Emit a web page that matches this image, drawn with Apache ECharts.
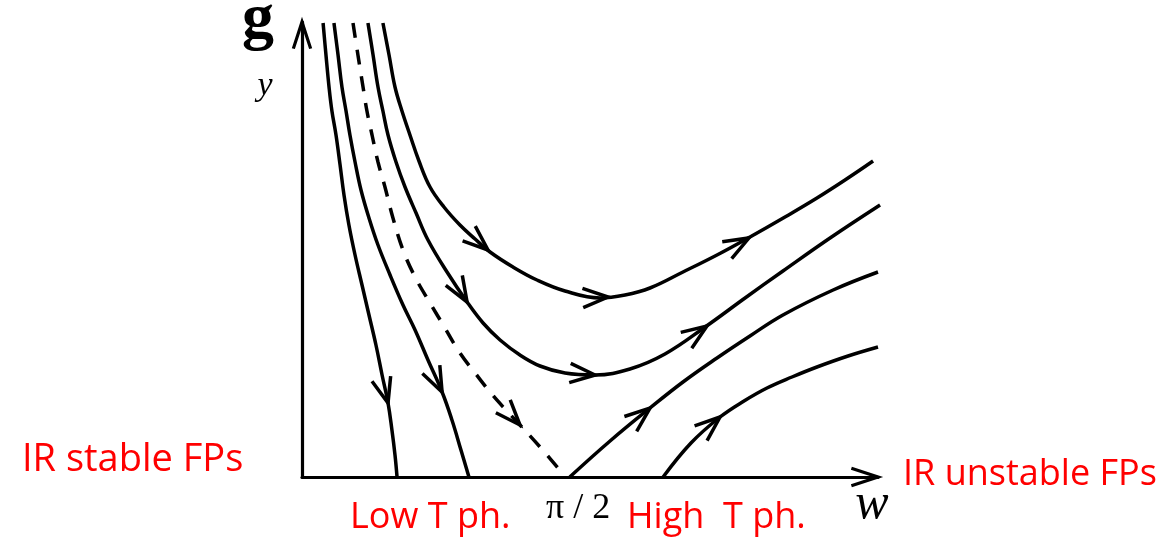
<!DOCTYPE html>
<html>
<head>
<meta charset="utf-8">
<script src="https://cdn.jsdelivr.net/npm/echarts@6/dist/echarts.min.js"></script>
<style>
  html, body { margin: 0; padding: 0; background: #fff; }
  #chart { width: 1167px; height: 541px; }
</style>
</head>
<body>
<div id="chart"></div>
<script>
// Axis extents in (w, g_y) units
const W_MAX = 3.388;
const G_MAX = 4.55;

// Flow trajectories, each point is [w, g_y]
// flows ending on the low-T fixed line (g_y -> 0 for w < pi/2)
const flowA = [[0.124, 4.54], [0.141, 4.22], [0.159, 3.90], [0.176, 3.66], [0.200, 3.42],
               [0.224, 3.12], [0.247, 2.82], [0.276, 2.52], [0.312, 2.22], [0.353, 1.92],
               [0.394, 1.62], [0.435, 1.32], [0.471, 1.02], [0.506, 0.74], [0.529, 0.47],
               [0.547, 0.22], [0.559, 0.00]];
const flowB = [[0.188, 4.54], [0.212, 4.22], [0.235, 3.90], [0.259, 3.66], [0.282, 3.42],
               [0.312, 3.15], [0.347, 2.87], [0.394, 2.59], [0.447, 2.32], [0.518, 2.02],
               [0.594, 1.72], [0.665, 1.47], [0.741, 1.17], [0.824, 0.85], [0.882, 0.57],
               [0.935, 0.27], [0.982, 0.00]];
// separatrix flowing into w = pi/2
const separatrix = [[0.300, 4.54], [0.329, 4.22], [0.359, 3.90], [0.382, 3.66], [0.412, 3.42],
                    [0.447, 3.15], [0.488, 2.90], [0.535, 2.59], [0.594, 2.27], [0.665, 2.00],
                    [0.753, 1.74], [0.841, 1.49], [0.929, 1.24], [1.018, 1.04], [1.106, 0.85],
                    [1.194, 0.68], [1.282, 0.52], [1.400, 0.30], [1.506, 0.09]];
// flows turning around and escaping to large w
const flowC = [[0.388, 4.54], [0.418, 4.22], [0.447, 3.90], [0.476, 3.66], [0.506, 3.42],
               [0.553, 3.15], [0.606, 2.90], [0.671, 2.64], [0.741, 2.37], [0.853, 2.05],
               [0.971, 1.75], [1.065, 1.54], [1.165, 1.37], [1.282, 1.22], [1.400, 1.11],
               [1.547, 1.04], [1.724, 1.02], [1.929, 1.08], [2.135, 1.23], [2.371, 1.50],
               [2.606, 1.79], [2.829, 2.06], [3.106, 2.39], [3.400, 2.72]];
const flowD = [[0.476, 4.54], [0.512, 4.22], [0.547, 3.90], [0.588, 3.66], [0.635, 3.42],
               [0.688, 3.16], [0.753, 2.90], [0.835, 2.70], [0.929, 2.52], [1.018, 2.38],
               [1.106, 2.25], [1.241, 2.10], [1.382, 1.97], [1.547, 1.86], [1.753, 1.79],
               [1.900, 1.82], [2.047, 1.89], [2.241, 2.05], [2.441, 2.22], [2.635, 2.40],
               [2.841, 2.60], [3.029, 2.79], [3.194, 2.97], [3.359, 3.16]];
// flows leaving the high-T fixed line (w > pi/2)
const flowE = [[1.575, 0.00], [1.812, 0.36], [2.047, 0.69], [2.241, 0.95], [2.441, 1.19],
               [2.635, 1.41], [2.829, 1.62], [3.124, 1.87], [3.388, 2.05]];
const flowF = [[2.124, 0.00], [2.288, 0.34], [2.459, 0.60], [2.600, 0.76], [2.735, 0.89],
               [2.882, 1.00], [3.029, 1.10], [3.212, 1.21], [3.388, 1.30]];

// Direction markers: [tipW, tipG, tailW, tailG]
const flowArrows = [
  [0.506, 0.74, 0.459, 1.03],   // A
  [0.824, 0.85, 0.747, 1.12],   // B
  [1.282, 0.52, 1.165, 0.74],   // separatrix
  [0.971, 1.75, 0.882, 2.00],   // C, descending
  [1.724, 1.02, 1.576, 1.04],   // C, turning
  [2.382, 1.51, 2.229, 1.33],   // C, rising
  [1.094, 2.27, 0.965, 2.46],   // D, descending
  [1.800, 1.80, 1.653, 1.79],   // D, turning
  [2.629, 2.39, 2.471, 2.24],   // D, rising
  [2.047, 0.69, 1.918, 0.51],   // E
  [2.459, 0.60, 2.341, 0.43]    // F
];
const axisArrows = [
  [W_MAX, 0, W_MAX - 0.2, 0],
  [0, G_MAX, 0, G_MAX - 0.2]
];

// Tick on the w axis
const xTickValues = [Math.PI / 2];
const xTickLabels = ['π / 2'];

// Region captions
const captionLeft = 'IR stable FPs';
const captionRight = 'IR unstable FPs';
const captionLow = 'Low T ph.';
const captionHigh = 'High  T ph.';

function chevron(len, halfDeg, width) {
  const half = halfDeg * Math.PI / 180;
  return function (params, api) {
    const tip = api.coord([api.value(0), api.value(1)]);
    const tail = api.coord([api.value(2), api.value(3)]);
    const a = Math.atan2(tail[1] - tip[1], tail[0] - tip[0]);
    return {
      type: 'polyline',
      shape: {
        points: [
          [tip[0] + len * Math.cos(a + half), tip[1] + len * Math.sin(a + half)],
          tip,
          [tip[0] + len * Math.cos(a - half), tip[1] + len * Math.sin(a - half)]
        ]
      },
      style: { stroke: '#000', lineWidth: width, fill: 'none', lineJoin: 'miter' }
    };
  };
}

function flowSeries(name, data, dashed) {
  return {
    name: name,
    type: 'line',
    data: data,
    smooth: 0.4,
    showSymbol: false,
    symbol: 'none',
    clip: false,
    silent: true,
    z: 2,
    lineStyle: { color: '#000', width: 3.5, type: dashed ? [15, 12] : 'solid', cap: 'butt' }
  };
}

const chart = echarts.init(document.getElementById('chart'), null, { renderer: 'canvas' });

const red = '#ff0000';
const capFont = '"Open Sans", "Noto Sans", sans-serif';

chart.setOption({
  backgroundColor: '#fff',
  animation: false,
  grid: { left: 302, right: 289, top: 22, bottom: 64, containLabel: false, outerBoundsMode: 'none' },
  xAxis: {
    type: 'value', min: 0, max: W_MAX,
    axisLine: { show: true, onZero: false, lineStyle: { color: '#000', width: 3.2 } },
    axisTick: { show: false },
    splitLine: { show: false },
    axisLabel: {
      customValues: xTickValues,
      formatter: function (v) {
        let best = 0;
        xTickValues.forEach(function (t, i) { if (Math.abs(t - v) < Math.abs(xTickValues[best] - v)) best = i; });
        return xTickLabels[best];
      },
      fontFamily: '"Liberation Serif", "DejaVu Serif", serif',
      fontSize: 36, color: '#000', margin: 14, padding: [0, 0, 0, 18]
    }
  },
  yAxis: {
    type: 'value', min: 0, max: G_MAX,
    axisLine: { show: true, onZero: false, lineStyle: { color: '#000', width: 3.2 } },
    axisTick: { show: false },
    axisLabel: { show: false },
    splitLine: { show: false }
  },
  series: [
    flowSeries('A', flowA, false),
    flowSeries('B', flowB, false),
    flowSeries('separatrix', separatrix, true),
    flowSeries('C', flowC, false),
    flowSeries('D', flowD, false),
    flowSeries('E', flowE, false),
    flowSeries('F', flowF, false),
    {
      type: 'custom', name: 'flowArrows', data: flowArrows, silent: true, z: 3,
      encode: { x: 0, y: 1 },
      renderItem: chevron(27, 21, 3.5)
    },
    {
      type: 'custom', name: 'axisArrows', data: axisArrows, silent: true, z: 3,
      encode: { x: 0, y: 1 },
      renderItem: chevron(28, 18, 3.2)
    }
  ],
  graphic: [
    { type: 'text', x: 258, y: 20, silent: true,
      style: { text: 'g', font: 'bold 64px "Liberation Serif", serif', fill: '#000', align: 'center', verticalAlign: 'middle' } },
    { type: 'text', x: 265, y: 86, silent: true,
      style: { text: 'y', font: 'italic 34px "Liberation Serif", serif', fill: '#000', align: 'center', verticalAlign: 'middle' } },
    { type: 'text', x: 872, y: 505, silent: true,
      style: { text: 'w', font: 'italic 50px "Liberation Serif", serif', fill: '#000', align: 'center', verticalAlign: 'middle' } },
    { type: 'text', x: 22, y: 460, silent: true,
      style: { text: captionLeft, font: '38px ' + capFont, fill: red, align: 'left', verticalAlign: 'middle' } },
    { type: 'text', x: 350, y: 518, silent: true,
      style: { text: captionLow, font: '36px ' + capFont, fill: red, align: 'left', verticalAlign: 'middle' } },
    { type: 'text', x: 627, y: 518, silent: true,
      style: { text: captionHigh, font: '36px ' + capFont, fill: red, align: 'left', verticalAlign: 'middle' } },
    { type: 'text', x: 903, y: 475, silent: true,
      style: { text: captionRight, font: '36px ' + capFont, fill: red, align: 'left', verticalAlign: 'middle' } }
  ]
});
</script>
</body>
</html>
